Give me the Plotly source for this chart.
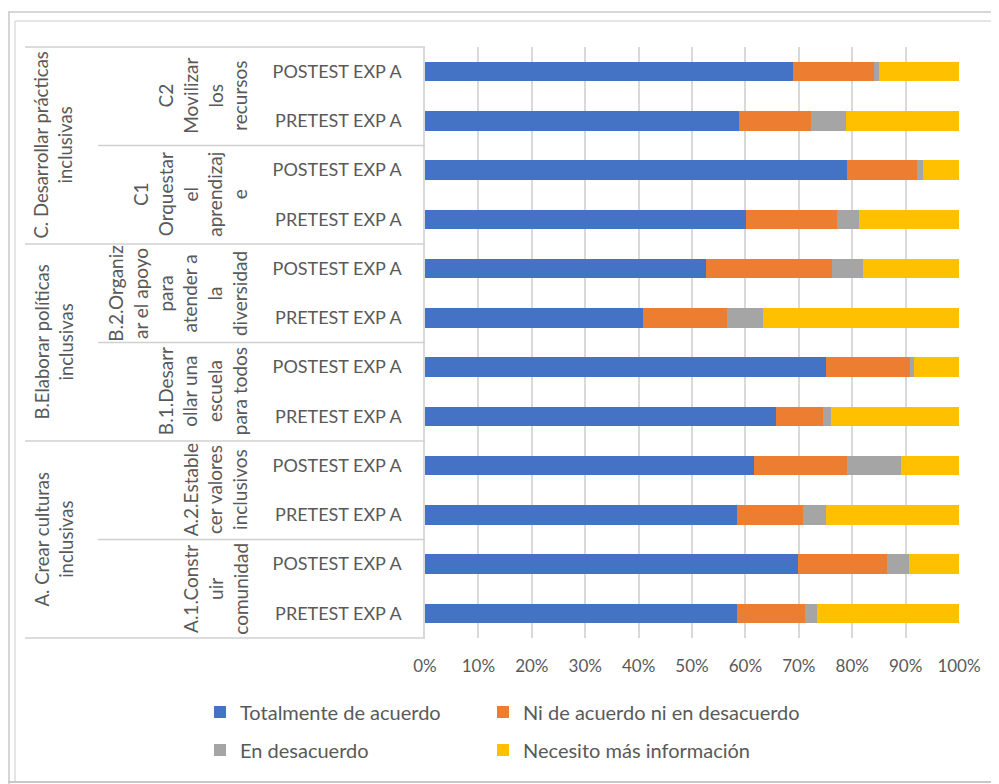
import plotly.graph_objects as go

# ---- data (top to bottom) ----
row_ids = ["C2_POST", "C2_PRE", "C1_POST", "C1_PRE", "B2_POST", "B2_PRE",
           "B1_POST", "B1_PRE", "A2_POST", "A2_PRE", "A1_POST", "A1_PRE"]
row_labels = ["POSTEST EXP A", "PRETEST EXP A"] * 6

series_names = ["Totalmente de acuerdo", "Ni de acuerdo ni en desacuerdo",
                "En desacuerdo", "Necesito más información"]
totalmente = [69.0, 58.8, 79.1, 60.2, 52.7, 40.8, 75.1, 65.7, 61.6, 58.4, 69.9, 58.4]
ni_acuerdo = [15.0, 13.5, 13.0, 17.0, 23.6, 15.8, 15.8, 8.8, 17.5, 12.3, 16.7, 12.7]
desacuerdo = [1.0, 6.6, 1.2, 4.1, 5.8, 6.7, 0.7, 1.5, 10.1, 4.4, 4.0, 2.4]
necesito = [15.0, 21.1, 6.7, 18.7, 17.9, 36.7, 8.4, 24.0, 10.8, 24.9, 9.4, 26.5]
colors = ["#4472C4", "#ED7D31", "#A5A5A5", "#FFC000"]

level1_labels = ["C. Desarrollar prácticas<br>inclusivas",
                 "B.Elaborar políticas<br>inclusivas",
                 "A. Crear culturas<br>inclusivas"]
level2_labels = ["C2<br>Movilizar<br>los<br>recursos",
                 "C1<br>Orquestar<br>el<br>aprendizaj<br>e",
                 "B.2.Organiz<br>ar el apoyo<br>para<br>atender a<br>la<br>diversidad",
                 "B.1.Desarr<br>ollar una<br>escuela<br>para todos",
                 "A.2.Estable<br>cer valores<br>inclusivos",
                 "A.1.Constr<br>uir<br>comunidad"]

FONT = "Lato, 'Open Sans', sans-serif"
TXT = "#595959"

# page offset (body margin) and page size
OFF = 8
PW, PH = 999, 784
W, H = PW - OFF, PH - OFF
# plot area in page px
L, R, T, B = 425, 959, 47, 638


def xp(px):
    return (px - L) / (R - L)


def yp(py):
    return (B - py) / (B - T)


legend_ids = ["legend", "legend2", "legend3", "legend4"]
# legend grid positions (page px): two columns, two rows
legend_x = [200, 483, 200, 483]
legend_y = [712, 712, 750, 750]

fig = go.Figure()
all_series = [totalmente, ni_acuerdo, desacuerdo, necesito]
for i, (name, vals, col) in enumerate(zip(series_names, all_series, colors)):
    fig.add_trace(go.Bar(
        y=row_ids, x=vals, name=name, orientation="h",
        marker=dict(color=col, line=dict(width=0)),
        legend=legend_ids[i],
        hoverinfo="x+name",
    ))

n = len(row_ids)
shapes = []
for k in range(0, n + 1, 4):
    shapes.append(dict(type="line", xref="paper", yref="paper",
                       x0=xp(25), x1=0, y0=k / n, y1=k / n,
                       line=dict(color="#d0d0d0", width=1.3)))
for k in range(2, n, 4):
    shapes.append(dict(type="line", xref="paper", yref="paper",
                       x0=xp(98), x1=0, y0=k / n, y1=k / n,
                       line=dict(color="#d0d0d0", width=1.3)))
frame = "#c8c8c8"
shapes += [
    dict(type="line", xref="paper", yref="paper", x0=xp(8), x1=xp(PW), y0=yp(12), y1=yp(12), line=dict(color=frame, width=1.5)),
    dict(type="line", xref="paper", yref="paper", x0=xp(9), x1=xp(9), y0=yp(12), y1=yp(PH), line=dict(color=frame, width=1.5)),
    dict(type="line", xref="paper", yref="paper", x0=xp(15), x1=xp(PW), y0=yp(21), y1=yp(21), line=dict(color="#dcdcdc", width=1.5)),
    dict(type="line", xref="paper", yref="paper", x0=xp(15), x1=xp(15), y0=yp(21), y1=yp(782), line=dict(color="#dcdcdc", width=1.5)),
    dict(type="line", xref="paper", yref="paper", x0=xp(8), x1=xp(PW), y0=yp(782), y1=yp(782), line=dict(color=frame, width=2)),
]

annotations = []
for g, txt in enumerate(level1_labels):
    yc = 1 - (g * 4 + 2) / n
    annotations.append(dict(text=txt, x=xp(53), y=yc, xref="paper", yref="paper",
                            xanchor="center", yanchor="middle", textangle=-90,
                            showarrow=False, align="center",
                            font=dict(family=FONT, size=18.5, color=TXT)))
for g, txt in enumerate(level2_labels):
    yc = 1 - (g * 2 + 1) / n
    annotations.append(dict(text=txt, x=xp(253), y=yc, xref="paper", yref="paper",
                            xanchor="right", yanchor="middle", textangle=-90,
                            showarrow=False, align="center",
                            font=dict(family=FONT, size=19, color=TXT)))

legend_layout = {}
for lid, lx, ly in zip(legend_ids, legend_x, legend_y):
    legend_layout[lid] = dict(orientation="v", x=xp(lx), y=yp(ly),
                              xanchor="left", yanchor="middle",
                              font=dict(family=FONT, size=20, color=TXT),
                              itemwidth=30, bgcolor="rgba(0,0,0,0)")

fig.update_layout(
    width=W, height=H,
    margin=dict(l=L - OFF, r=PW - R, t=T - OFF, b=PH - B),
    paper_bgcolor="white", plot_bgcolor="white",
    barmode="stack", bargap=0.6,
    font=dict(family=FONT, size=18, color=TXT),
    xaxis=dict(range=[0, 100], dtick=10, ticksuffix="%", showgrid=True,
               gridcolor="#d9d9d9", gridwidth=1.5, zeroline=False,
               showline=False, ticks="", ticklabelstandoff=16,
               tickfont=dict(family=FONT, size=17, color=TXT), fixedrange=True),
    yaxis=dict(autorange="reversed", tickmode="array", tickvals=row_ids,
               ticktext=row_labels, showline=True, linecolor="#d9d9d9",
               linewidth=1.5, ticks="", ticklabelstandoff=18, showgrid=False,
               tickfont=dict(family=FONT, size=18, color=TXT), fixedrange=True),
    shapes=shapes,
    annotations=annotations,
    showlegend=True,
    **legend_layout,
)

fig.write_html("out.html")
